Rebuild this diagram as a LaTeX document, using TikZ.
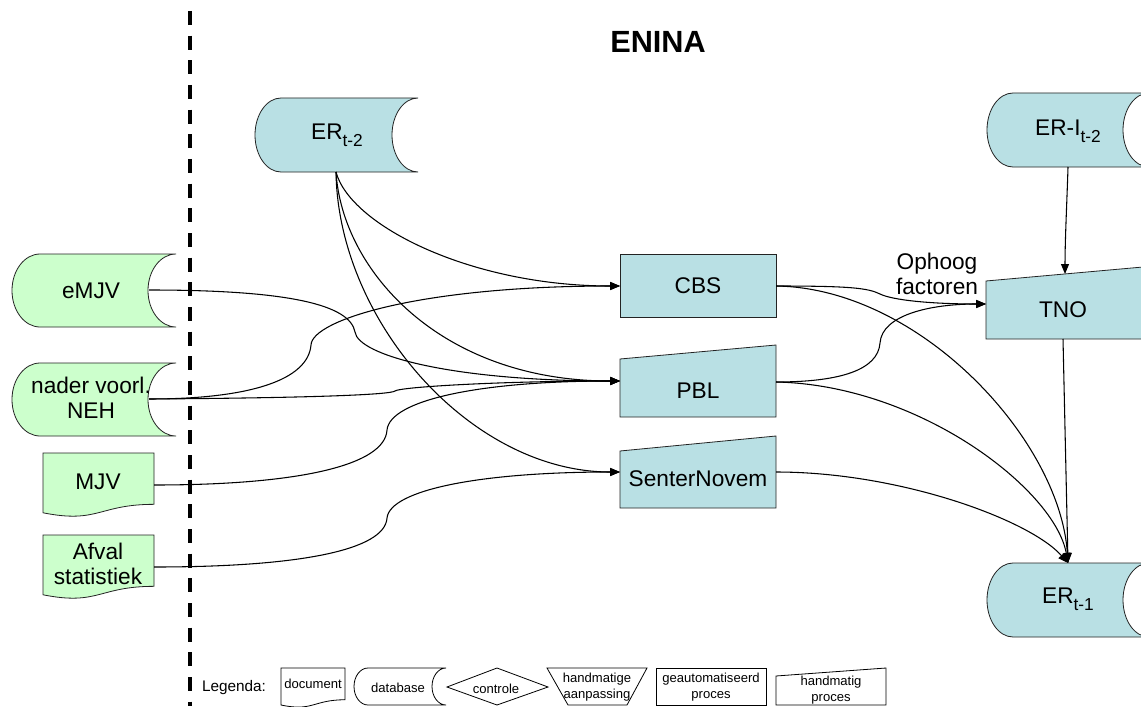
\documentclass[tikz,border=0pt]{standalone}
\usepackage{fontspec}
\setmainfont{Liberation Sans}
\usetikzlibrary{arrows.meta}
\definecolor{erblue}{RGB}{185,224,228}
\definecolor{srcgreen}{RGB}{204,255,204}
\definecolor{edgecol}{RGB}{35,35,35}

\newcommand{\dbshape}[6]{% style, x0,y0,x1,y1,r
\draw[#1] ({#2+#6},#3) -- (#4,#3)
 .. controls ({#4-0.552*#6},#3) and ({#4-#6},{#3+0.224*(#5-#3)}) .. ({#4-#6},{(#3+#5)/2})
 .. controls ({#4-#6},{#5-0.224*(#5-#3)}) and ({#4-0.552*#6},#5) .. (#4,#5)
 -- ({#2+#6},#5)
 .. controls ({#2+0.448*#6},#5) and (#2,{#5-0.224*(#5-#3)}) .. (#2,{(#3+#5)/2})
 .. controls (#2,{#3+0.224*(#5-#3)}) and ({#2+0.448*#6},#3) .. ({#2+#6},#3) -- cycle;}
\newcommand{\docshape}[5]{% style, x0, y0, x1, h
\draw[#1] (#2,#3) -- (#4,#3) -- (#4,{#3+0.802*#5})
 .. controls ({(#2+#4)/2},{#3+0.802*#5}) and ({(#2+#4)/2},{#3+1.107*#5}) .. (#2,{#3+0.934*#5}) -- cycle;}
\newcommand{\ersub}[1]{\raisebox{-5pt}{\fontsize{13}{13}\selectfont #1}}

\tikzset{
 shapeline/.style={draw=edgecol, line width=0.6pt},
 bluefill/.style={shapeline, fill=erblue},
 greenfill/.style={shapeline, fill=srcgreen},
 legendshape/.style={draw=black, line width=0.6pt, fill=white},
 lbl/.style={font=\fontsize{17}{19}\selectfont, align=center, inner sep=0pt},
 leg/.style={font=\fontsize{9.8}{11.5}\selectfont, align=center, inner sep=0pt},
 conn/.style={draw=black, line width=0.8pt},
 arr/.style={conn, -{Triangle[length=7.5pt,width=6pt]}},
}

\begin{document}
\begin{tikzpicture}[x=0.75pt, y=-0.75pt]
\useasboundingbox (0,0) rectangle (1141,706);
\clip (0,0) rectangle (1141,706);
\fill[white] (0,0) rectangle (1141,706);

% divider
\coordinate (dtop) at (190,11);
\coordinate (dbot) at (190,706);
\draw[line width=2.3pt, dash pattern=on 10.5pt off 8pt] (dtop) -- (dbot);

\node[font=\fontsize{23}{23}\selectfont\bfseries] (title) at (658,42) {ENINA};

% ---- source shapes (green)
\dbshape{greenfill}{12}{254}{176}{327}{28}
\node[lbl] (emjv) at (91,291) {eMJV};
\dbshape{greenfill}{12}{363}{176}{436}{28}
\node[lbl] (neh) at (91,398) {nader voorl.\\NEH};
\docshape{greenfill}{43}{453}{154}{64}
\node[lbl] (mjv) at (98,482) {MJV};
\docshape{greenfill}{43}{535}{154}{64}
\node[lbl] (afval) at (98,564) {Afval\\statistiek};

% ---- databases (blue)
\dbshape{bluefill}{255}{98}{418}{172}{26}
\node[lbl] (ert2) at (337,135) {ER\ersub{t-2}};
\dbshape{bluefill}{987}{93}{1149}{167}{26}
\node[lbl] (erit2) at (1068,131) {ER-I\ersub{t-2}};
\dbshape{bluefill}{987}{563}{1149}{637}{26}
\node[lbl] (ert1) at (1068,599) {ER\ersub{t-1}};

% ---- processes
\draw[bluefill] (620,254) rectangle (776,317);
\node[lbl] (cbs) at (698,286) {CBS};
\draw[bluefill] (620,359) -- (776,345) -- (776,417) -- (620,417) -- cycle;
\node[lbl] (pbl) at (698,391) {PBL};
\draw[bluefill] (620,451) -- (776,436) -- (776,508) -- (620,508) -- cycle;
\node[lbl] (sn) at (698,479) {SenterNovem};
\draw[bluefill] (986,281) -- (1143,267) -- (1143,339) -- (986,339) -- cycle;
\node[lbl] (tno) at (1063,310) {TNO};

% ---- anchor points
\coordinate (emjvR) at (149,290);
\coordinate (nehR) at (149,399);
\coordinate (mjvR) at (154,485);
\coordinate (afvalR) at (154,567);
\coordinate (ert2B) at (336,172);
\coordinate (cbsL) at (620,286);
\coordinate (cbsR) at (776,286);
\coordinate (pblL) at (620,381);
\coordinate (pblR) at (776,382);
\coordinate (snL) at (620,472);
\coordinate (snR) at (776,472);
\coordinate (tnoL) at (986,304);
\coordinate (tnoT) at (1065,274);
\coordinate (tnoB) at (1063,339);
\coordinate (erit2B) at (1068,167);
\coordinate (ert1T) at (1068,563);

% ---- connectors into CBS / PBL / SenterNovem
\draw[arr] (ert2B) .. controls (350,225) and (470,286) .. (cbsL);
\draw[arr] (ert2B) .. controls (342,270) and (440,381) .. (pblL);
\draw[arr] (ert2B) .. controls (338,320) and (470,472) .. (snL);
\draw[arr] (emjvR) .. controls (290,290) and (350,305) .. (355,332)
                   .. controls (358,355) and (450,381) .. (pblL);
\draw[arr] (nehR) .. controls (250,399) and (308,380) .. (311,345)
                  .. controls (312,320) and (420,286) .. (cbsL);
\draw[arr] (nehR) .. controls (300,398) and (390,395) .. (395,391)
                  .. controls (400,387) and (500,381) .. (pblL);
\draw[arr] (mjvR) .. controls (300,485) and (385,465) .. (387,430)
                  .. controls (390,400) and (480,381) .. (pblL);
\draw[arr] (afvalR) .. controls (300,567) and (385,550) .. (387,518)
                    .. controls (390,490) and (480,472) .. (snL);

% ---- connectors into TNO / ER t-1
\draw[arr] (cbsR) .. controls (850,286) and (868,288) .. (880,294)
                  .. controls (892,300) and (930,304) .. (tnoL);
\draw[arr] (pblR) .. controls (840,382) and (878,370) .. (880,343)
                  .. controls (882,315) and (930,304) .. (tnoL);
\draw[arr] (erit2B) .. controls (1067,200) and (1065,240) .. (tnoT);
\draw[arr] (cbsR) .. controls (920,288) and (1060,440) .. (ert1T);
\draw[arr] (pblR) .. controls (920,385) and (1055,490) .. (ert1T);
\draw[arr] (snR) .. controls (900,472) and (1030,520) .. (ert1T);
\draw[arr] (tnoB) -- (ert1T);

\node[lbl] (ophoog) at (937,274) {Ophoog\\factoren};

% ---- legend
\node[font=\fontsize{11.5}{12}\selectfont, inner sep=0pt] (legenda) at (234,688) {Legenda:};
\docshape{legendshape}{281}{668}{345}{39.6}
\node[leg] (lgdoc) at (313,684) {document};
\dbshape{legendshape}{354}{668}{446}{705}{14}
\node[leg] (lgdb) at (398,688) {database};
\draw[legendshape] (447,687) -- (497,668) -- (548,687) -- (497,705) -- cycle;
\node[leg] (lgctl) at (496,689) {controle};
\draw[legendshape] (547,668) -- (647,668) -- (627,705) -- (568,705) -- cycle;
\node[leg] (lgman) at (597,687) {handmatige\\aanpassing};
\draw[legendshape] (656,668) rectangle (766,705);
\node[leg] (lgauto) at (711,687) {geautomatiseerd\\proces};
\draw[legendshape] (776,676) -- (886,668) -- (886,705) -- (776,705) -- cycle;
\node[leg] (lghp) at (831,690) {handmatig\\proces};
\end{tikzpicture}
\end{document}
